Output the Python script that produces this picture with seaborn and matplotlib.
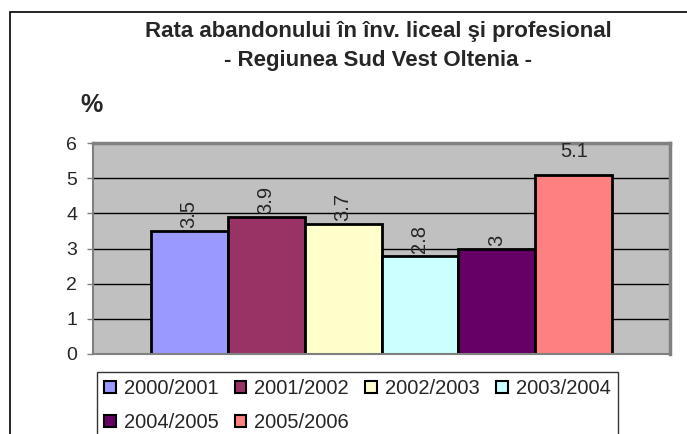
import matplotlib
matplotlib.use("Agg")
import matplotlib.pyplot as plt
import seaborn as sns
import pandas as pd
from matplotlib.patches import Rectangle, Patch

# date din grafic
ani = ["2000/2001", "2001/2002", "2002/2003", "2003/2004", "2004/2005", "2005/2006"]
rata = [3.5, 3.9, 3.7, 2.8, 3.0, 5.1]
culori = ["#9999FF", "#993366", "#FFFFCC", "#CCFFFF", "#660066", "#FF8080"]
etichete = ["3.5", "3.9", "3.7", "2.8", "3", "5.1"]
rotatie = [90, 90, 90, 90, 90, 0]

df = pd.DataFrame({"an": ani, "rata": rata})

sns.set_style("white")
plt.rcParams["font.family"] = ["Liberation Sans", "DejaVu Sans"]

fig = plt.figure(figsize=(6.87, 4.34), dpi=100)
ax = fig.add_axes([93 / 687, 1 - 354 / 434, 577 / 687, 211 / 434])

sns.barplot(data=df, x="an", y="rata", hue="an", palette=culori, width=1.0,
            edgecolor="black", linewidth=2, legend=False, ax=ax, saturation=1)

ax.set_facecolor("#C0C0C0")
ax.set_xlim(-1.25, 6.25)
ax.set_ylim(0, 6)
ax.set_yticks(range(7))
ax.tick_params(axis="y", labelsize=14, length=4.5, width=1, color="#808080",
               direction="out", left=True, pad=7)
ax.set_xticks([])
ax.set_xlabel("")
ax.set_ylabel("")
ax.yaxis.grid(True, color="black", linewidth=1)
ax.set_axisbelow(True)
for s in ["left", "bottom"]:
    ax.spines[s].set_color("#808080")
    ax.spines[s].set_linewidth(1.5)
for s in ["top", "right"]:
    ax.spines[s].set_color("#808080")
    ax.spines[s].set_linewidth(2.5)

for i, (v, t, r) in enumerate(zip(rata, etichete, rotatie)):
    if r == 90:
        ax.annotate(t, (i, v), xytext=(0, 2), textcoords="offset points", rotation=90,
                    ha="center", va="bottom", fontsize=14.5)
    else:
        ax.annotate(t, (i, v), xytext=(0, 10), textcoords="offset points",
                    ha="center", va="bottom", fontsize=14.5)

fig.text(378 / 687, 1 - 32 / 434, "Rata abandonului în înv. liceal şi profesional",
         ha="center", va="center", fontsize=16, fontweight="bold")
fig.text(378 / 687, 1 - 60 / 434, "- Regiunea Sud Vest Oltenia -",
         ha="center", va="center", fontsize=16, fontweight="bold")
fig.text(91 / 687, 1 - 105 / 434, "%", ha="center", va="center", fontsize=18, fontweight="bold")

# ordinea pe randuri: matplotlib umple legenda pe coloane
ordine = [0, 4, 1, 5, 2, 3]
handles = [Patch(facecolor=culori[k], edgecolor="black", linewidth=1.5) for k in ordine]
labels = [ani[k] for k in ordine]
leg = fig.legend(handles, labels, loc="upper left", bbox_to_anchor=(97 / 687, 1 - 372 / 434),
                 ncol=4, fontsize=14.5, frameon=True, fancybox=False, handlelength=0.58,
                 handleheight=0.58, handletextpad=0.4, columnspacing=0.8, labelspacing=0.75,
                 borderpad=0.35, borderaxespad=0)
leg.get_frame().set_edgecolor("black")
leg.get_frame().set_linewidth(1)

# chenarul exterior
fig.patches.append(Rectangle((10 / 687, -0.1), 1.0, 1 - 12 / 434 + 0.1, transform=fig.transFigure,
                             fill=False, edgecolor="black", linewidth=1.2))

fig.savefig("out.png", dpi=100)
